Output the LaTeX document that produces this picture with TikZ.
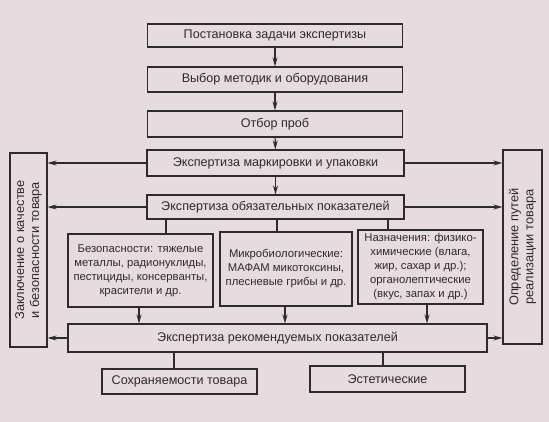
\documentclass[tikz,border=0pt]{standalone}
\usepackage{fontspec}
\setmainfont{Liberation Sans}
\usetikzlibrary{arrows.meta,calc}
\definecolor{bg}{HTML}{E6DBDE}
\definecolor{ink}{HTML}{2E2B2E}
\tikzset{
  box/.style={draw=ink, line width=1.1pt, rectangle, inner sep=0pt, align=center, text=ink, font=\fontsize{12.6}{15}\selectfont},
  small/.style={font=\fontsize{11.3}{14}\selectfont},
  vert/.style={font=\fontsize{12.8}{15}\selectfont},
  arr/.style={draw=ink, line width=1.1pt, -{Stealth[length=9pt,width=5pt]}},
  ln/.style={draw=ink, line width=1.1pt}
}
\begin{document}
\begin{tikzpicture}[x=1pt,y=-1pt]
\fill[bg] (0,0) rectangle (549,422);
\useasboundingbox (0,0) rectangle (549,422);
\node[box, minimum width=255pt, minimum height=23pt] (b1) at (275,35.5) {Постановка задачи экспертизы};
\node[box, minimum width=255pt, minimum height=25pt] (b2) at (275,79.5) {Выбор методик и оборудования};
\node[box, minimum width=255pt, minimum height=26pt] (b3) at (275,124) {Отбор проб};
\node[box, minimum width=257pt, minimum height=26pt] (b4) at (275.5,163) {Экспертиза маркировки и упаковки};
\node[box, minimum width=257pt, minimum height=24pt] (b5) at (275.5,207) {Экспертиза обязательных показателей};
\node[box, vert, minimum width=194pt, minimum height=37pt, rotate=90] (L) at (28.5,250) {Заключение о качестве\\и безопасности товара};
\node[box, vert, minimum width=194pt, minimum height=39pt, rotate=90] (R) at (522.5,247) {Определение путей\\реализации товара};
\node[box, small, minimum width=145pt, minimum height=73pt] (A) at (140.5,270.5) {Безопасности: тяжелые\\металлы, радионуклиды,\\пестициды, консерванты,\\красители и др.};
\node[box, small, minimum width=132pt, minimum height=74pt] (B) at (286,269) {Микробиологические:\\МАФАМ микотоксины,\\плесневые грибы и др.};
\node[box, small, minimum width=125pt, minimum height=74pt] (C) at (420.5,267) {Назначения: физико-\\химические (влага,\\жир, сахар и др.);\\органолептические\\(вкус, запах и др.)};
\node[box, minimum width=419pt, minimum height=28pt] (rec) at (277.5,338) {Экспертиза рекомендуемых показателей};
\node[box, minimum width=155pt, minimum height=25pt] (s1) at (179.5,381.5) {Сохраняемости товара};
\node[box, minimum width=155pt, minimum height=26pt] (s2) at (387.5,379) {Эстетические};
% vertical chain
\draw[arr] (b1) -- (b2);
\draw[arr] (b2) -- (b3);
\draw[arr] (b3) -- (b4);
\draw[arr] (b4) -- (b5);
% side arrows
\draw[arr] (b4.west) -- (b4.west -| L.south);
\draw[arr] (b4.east) -- (b4.east -| R.north);
\draw[arr] (b5.west) -- (b5.west -| L.south);
\draw[arr] (b5.east) -- (b5.east -| R.north);
\draw[arr] (rec.west) -- (rec.west -| L.south);
\draw[arr] (rec.east) -- (rec.east -| R.north);
% branches
\draw[ln] (b5.south -| 166,0) -- (A.north -| 166,0);
\draw[ln] (b5.south -| 277,0) -- (B.north -| 277,0);
\draw[ln] (b5.south -| 388,0) -- (C.north -| 388,0);
\draw[arr] (A.south -| 139,0) -- (rec.north -| 139,0);
\draw[arr] (B.south -| 285,0) -- (rec.north -| 285,0);
\draw[arr] (C.south -| 427,0) -- (rec.north -| 427,0);
\draw[ln] (rec.south -| 174,0) -- (s1.north -| 174,0);
\draw[ln] (rec.south -| 383,0) -- (s2.north -| 383,0);
\end{tikzpicture}
\end{document}
